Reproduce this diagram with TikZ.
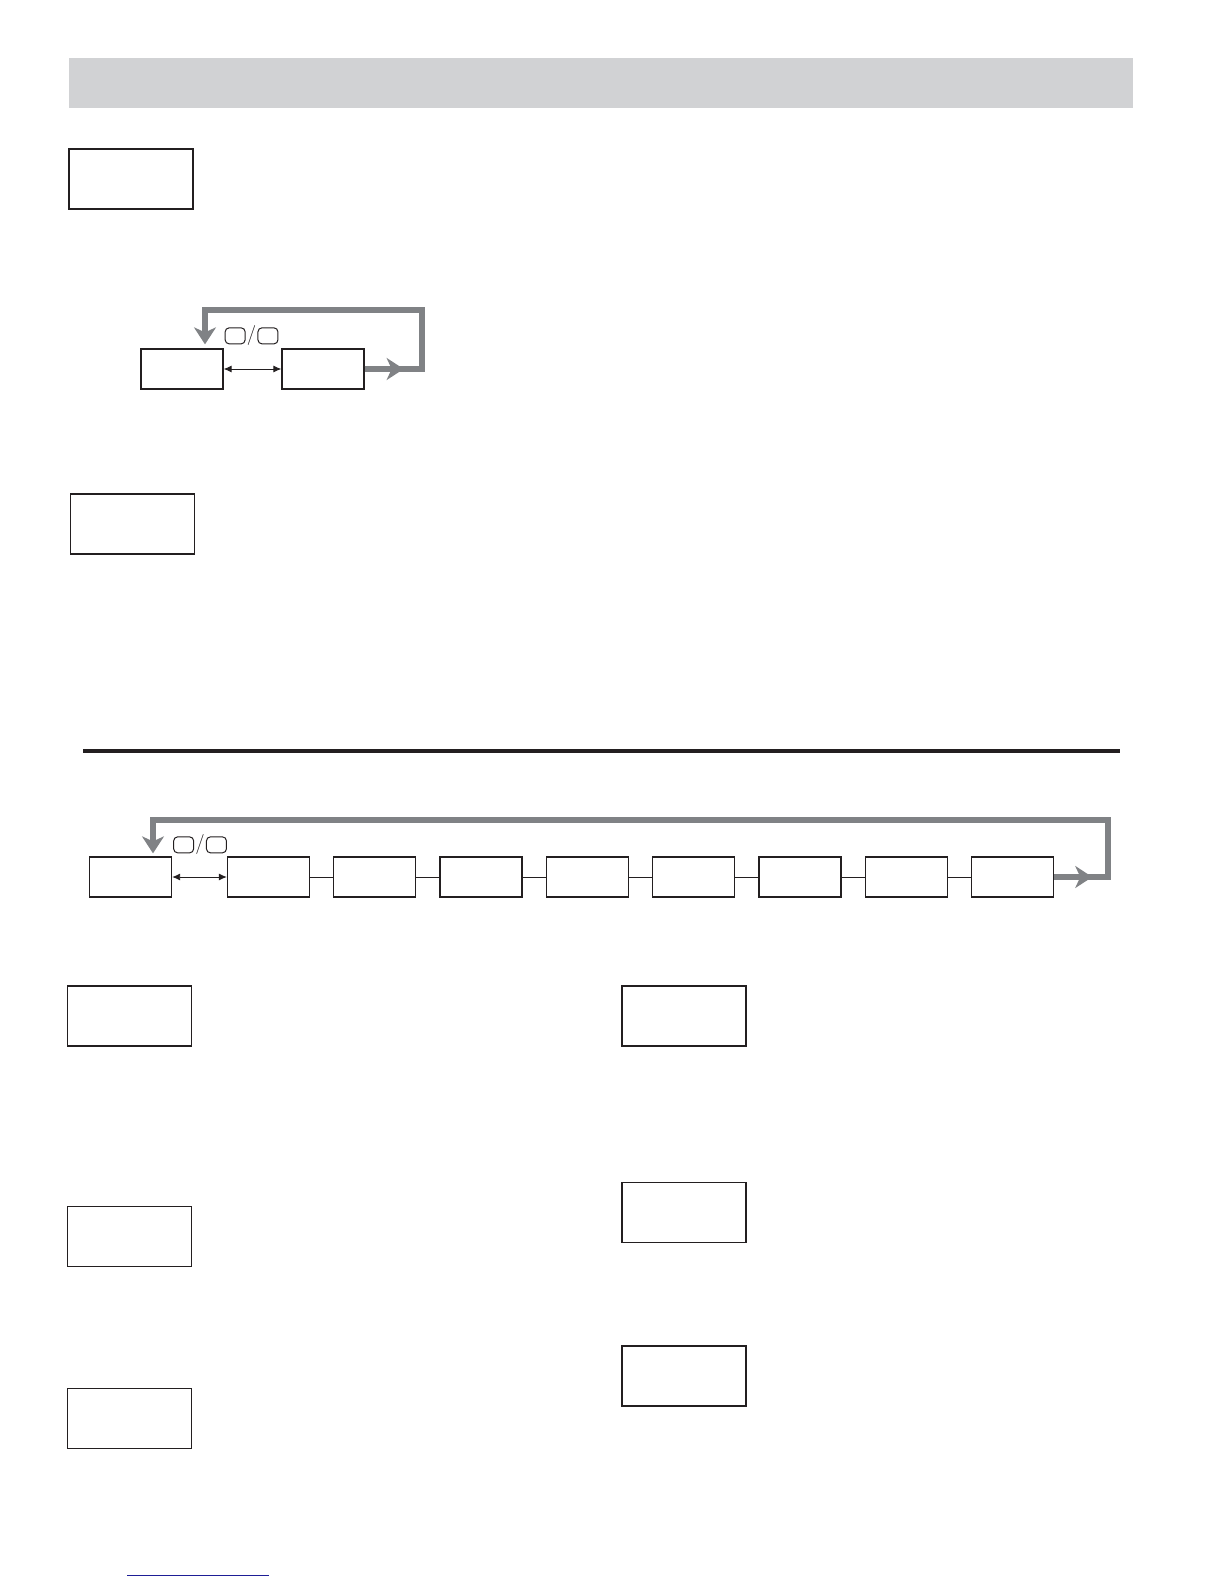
\documentclass[tikz,border=0pt]{standalone}
\usepackage{tikz}
\usetikzlibrary{arrows.meta,positioning}
\definecolor{bandgray}{RGB}{209,210,212}
\definecolor{loopgray}{RGB}{128,130,133}
\definecolor{inkblack}{RGB}{35,31,32}
\definecolor{linkblue}{RGB}{30,30,150}
\tikzset{
    raw display/.style={rectangle, draw=inkblack, fill=white, inner sep=0pt},
    display/.style={raw display, line width=1.6pt, minimum width=124pt, minimum height=60pt},
    menu entry/.style={raw display, line width=1.3pt, minimum width=82pt, minimum height=40pt},
    keycap/.style={rectangle, draw=inkblack, rounded corners=4pt, line width=1pt, minimum width=20pt, minimum height=16pt, inner sep=0pt},
    key slash/.style={inner sep=0pt, text=inkblack, font=\sffamily\fontsize{20}{20}\selectfont},
    thin link/.style={draw=inkblack, line width=0.9pt},
    loop line/.style={draw=loopgray, line width=6pt},
    loop tip/.style={-{Stealth[length=17pt, width=22pt, inset=5pt, line width=2.5pt]}}
}

\begin{document}
\begin{tikzpicture}[x=1pt, y=-1pt, >={Latex[length=8pt, width=7pt]}]
    \useasboundingbox (0,0) rectangle (1224,1584);
    \fill[bandgray] (69,58) rectangle (1133,108);

    \node[display] (intro) at (131,179) {};

    \node[menu entry] (a) at (182,369) {};
    \node[menu entry] (b) at (323,369) {};
    \draw[thin link, <->] (a) -- (b);
    \node[keycap, above right=4pt and 1pt of a.north east] (a up) {};
    \node[key slash, right=1pt of a up] (a slash) {/};
    \node[keycap, right=1pt of a slash] (a down) {};
    \draw[loop line, loop tip] (b.east) -- ++(39,0);
    \draw[loop line, loop tip] (b.east) -- ++(57,0) -- ++(0,-59) -| ([xshift=23pt, yshift=4pt]a.north);

    \node[display] (second) at (132.5,524) {};

    \draw[inkblack, line width=3.5pt] (83,751) -- (1120,751);

    \node[menu entry] (m0) at (130.5,877) {};
    \node[menu entry, right=54.7pt of m0] (m1) {};
    \foreach \i [count=\j from 2] in {1,...,7}
        \node[menu entry, right=23pt of m\i] (m\j) {};
    \draw[thin link, <->] (m0) -- (m1);
    \foreach \i [count=\j from 2] in {1,...,7}
        \draw[thin link] (m\i) -- (m\j);
    \node[keycap, above right=3pt and 1pt of m0.north east] (m up) {};
    \node[key slash, right=1pt of m up] (m slash) {/};
    \node[keycap, right=1pt of m slash] (m down) {};
    \draw[loop line, loop tip] (m8.east) -- ++(38,0);
    \draw[loop line, loop tip] (m8.east) -- ++(54,0) -- ++(0,-57) -| ([xshift=22.5pt, yshift=3pt]m0.north);

    \node[display] (l1) at (129.5,1016) {};
    \node[display] (l2) at (129.5,1236.5) {};
    \node[display] (l3) at (129.5,1418.5) {};
    \node[display] (r1) at (684,1016) {};
    \node[display] (r2) at (684,1212.5) {};
    \node[display] (r3) at (684,1376) {};

    \draw[linkblue, line width=1pt] (127,1575) -- (269,1575);
\end{tikzpicture}
\end{document}
